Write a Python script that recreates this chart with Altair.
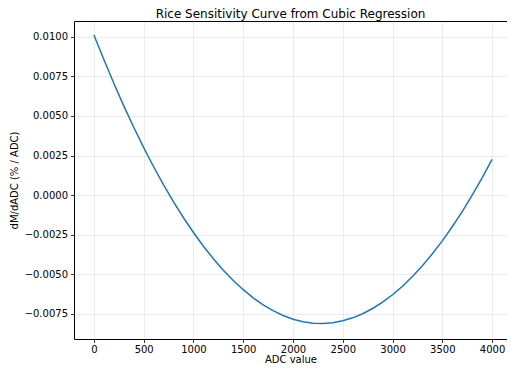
import altair as alt
import pandas as pd

adc = [0, 100, 200, 300, 400, 500, 600, 700, 800, 900, 1000, 1100, 1200, 1300, 1400,
       1500, 1600, 1700, 1800, 1900, 2000, 2100, 2200, 2300, 2400, 2500, 2600, 2700,
       2800, 2900, 3000, 3100, 3200, 3300, 3400, 3500, 3600, 3700, 3800, 3900, 4000]
sens = [0.01013, 0.00857, 0.00707, 0.00564, 0.00429, 0.00300, 0.00179, 0.00064,
        -0.00044, -0.00144, -0.00237, -0.00324, -0.00403, -0.00476, -0.00541,
        -0.00599, -0.00651, -0.00695, -0.00732, -0.00762, -0.00786, -0.00802,
        -0.00811, -0.00813, -0.00808, -0.00796, -0.00777, -0.00751, -0.00718,
        -0.00678, -0.00631, -0.00577, -0.00516, -0.00448, -0.00372, -0.00290,
        -0.00201, -0.00105, -0.00001, 0.00109, 0.00226]
x_ticks = [0, 500, 1000, 1500, 2000, 2500, 3000, 3500, 4000]
y_ticks = [-0.0075, -0.005, -0.0025, 0.0, 0.0025, 0.005, 0.0075, 0.01]

df = pd.DataFrame({"adc": adc, "sens": sens})

FONT = "DejaVu Sans"

chart = alt.Chart(df).mark_line(color="#1f77b4", strokeWidth=1.5).encode(
    x=alt.X("adc:Q", title="ADC value",
            scale=alt.Scale(domain=[-200, 4150], nice=False, zero=False),
            axis=alt.Axis(values=x_ticks, format="d")),
    y=alt.Y("sens:Q", title="dM/dADC (% / ADC)",
            scale=alt.Scale(domain=[-0.00911, 0.01101], nice=False, zero=False),
            axis=alt.Axis(values=y_ticks, format=".4f")),
).properties(
    width=433, height=318,
    title=alt.TitleParams("Rice Sensitivity Curve from Cubic Regression",
                          fontSize=12, font=FONT, fontWeight="normal",
                          color="black", offset=0, anchor="middle"),
    autosize=alt.AutoSizeParams(type="none"),
    padding={"left": 66, "top": 13, "right": 0, "bottom": 26},
).configure_view(
    stroke="black", strokeWidth=1
).configure_axis(
    labelFont=FONT, titleFont=FONT, labelFontSize=10, titleFontSize=10,
    labelColor="black", titleColor="black", titleFontWeight="normal",
    tickColor="black", tickSize=3.5, tickWidth=0.8, labelPadding=3,
    domain=False, grid=True, gridColor="#b0b0b0", gridOpacity=0.3, gridWidth=0.8,
).configure_axisX(
    labelPadding=2, titlePadding=0
).configure_axisY(
    titlePadding=5
)

chart.save("out.html", embed_options={"renderer": "svg", "actions": False})
